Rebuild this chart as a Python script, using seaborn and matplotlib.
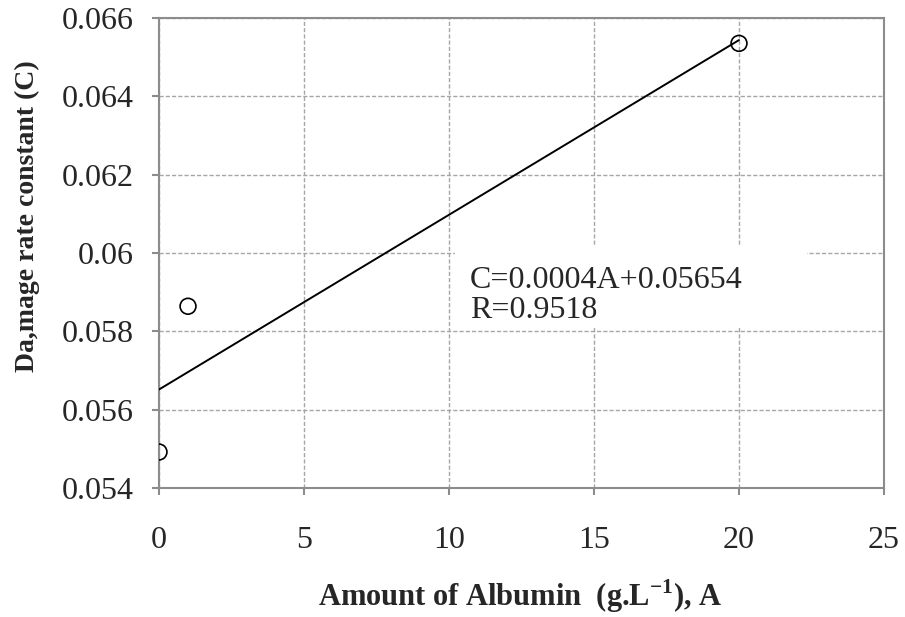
import numpy as np
import pandas as pd
import matplotlib
matplotlib.use("Agg")
import matplotlib.pyplot as plt
from matplotlib.patches import Rectangle
import seaborn as sns

# data
albumin = [0, 1, 20]                       # amount of albumin, g/L
damage_rate = [0.05492, 0.05864, 0.06535]  # damage rate constant C
x_ticks = [0, 5, 10, 15, 20, 25]
y_ticks = [0.054, 0.056, 0.058, 0.060, 0.062, 0.064, 0.066]
y_tick_labels = ["0.054", "0.056", "0.058", "0.06", "0.062", "0.064", "0.066"]
fit_text = "C=0.0004A+0.05654\nR=0.9518"

df = pd.DataFrame({"A": albumin, "C": damage_rate})

sns.set_style("white")
plt.rcParams["font.family"] = ["Liberation Serif", "DejaVu Serif"]
plt.rcParams["mathtext.fontset"] = "custom"
plt.rcParams["mathtext.rm"] = "Liberation Serif"
plt.rcParams["mathtext.bf"] = "Liberation Serif:bold"

fig = plt.figure(figsize=(9.05, 6.17), dpi=100)
ax = fig.add_axes([0.1757, 0.209, 0.8011, 0.762])

grey = "#8c8c8c"

# regression line over the data range
sns.regplot(data=df, x="A", y="C", scatter=False, ci=None, truncate=True,
            color="black", line_kws={"linewidth": 1.4, "zorder": 4}, ax=ax)

# open circle markers
sns.scatterplot(data=df, x="A", y="C", s=130, marker="o",
                facecolor="none", edgecolor="black", linewidth=1.2,
                zorder=5, ax=ax)

ax.set_xlim(0, 25)
ax.set_ylim(0.054, 0.066)
ax.set_xticks(x_ticks)
ax.set_yticks(y_ticks)
ax.set_yticklabels(y_tick_labels)

ax.grid(True, linestyle=(0, (3, 1.5)), color="#a6a6a6", linewidth=1.0, zorder=0)
ax.set_axisbelow(True)

for s in ax.spines.values():
    s.set_color(grey)
    s.set_linewidth(1.5)

ax.tick_params(axis="both", direction="out", length=5, width=1.5, color=grey,
               labelsize=23, left=True, bottom=True)
ax.tick_params(axis="x", pad=22)
ax.tick_params(axis="y", pad=13)

# white box behind the equation text
ax.add_patch(Rectangle((10.2, 0.05808), 12.15, 0.00212, facecolor="white",
                       edgecolor="none", zorder=2))
ax.text(10.72, 0.05891, fit_text, fontsize=23, va="center", ha="left",
        linespacing=1.05, zorder=3)

ax.set_xlabel(r"Amount of Albumin  (g.L$^{\mathbf{-1}}$), A", fontsize=22,
              fontweight="bold")
ax.set_ylabel("Da,mage rate constant (C)", fontsize=20, fontweight="bold")
ax.xaxis.set_label_coords(0.498, -0.19)
ax.yaxis.set_label_coords(-0.164, 0.579)

fig.savefig("out.png", dpi=100)
